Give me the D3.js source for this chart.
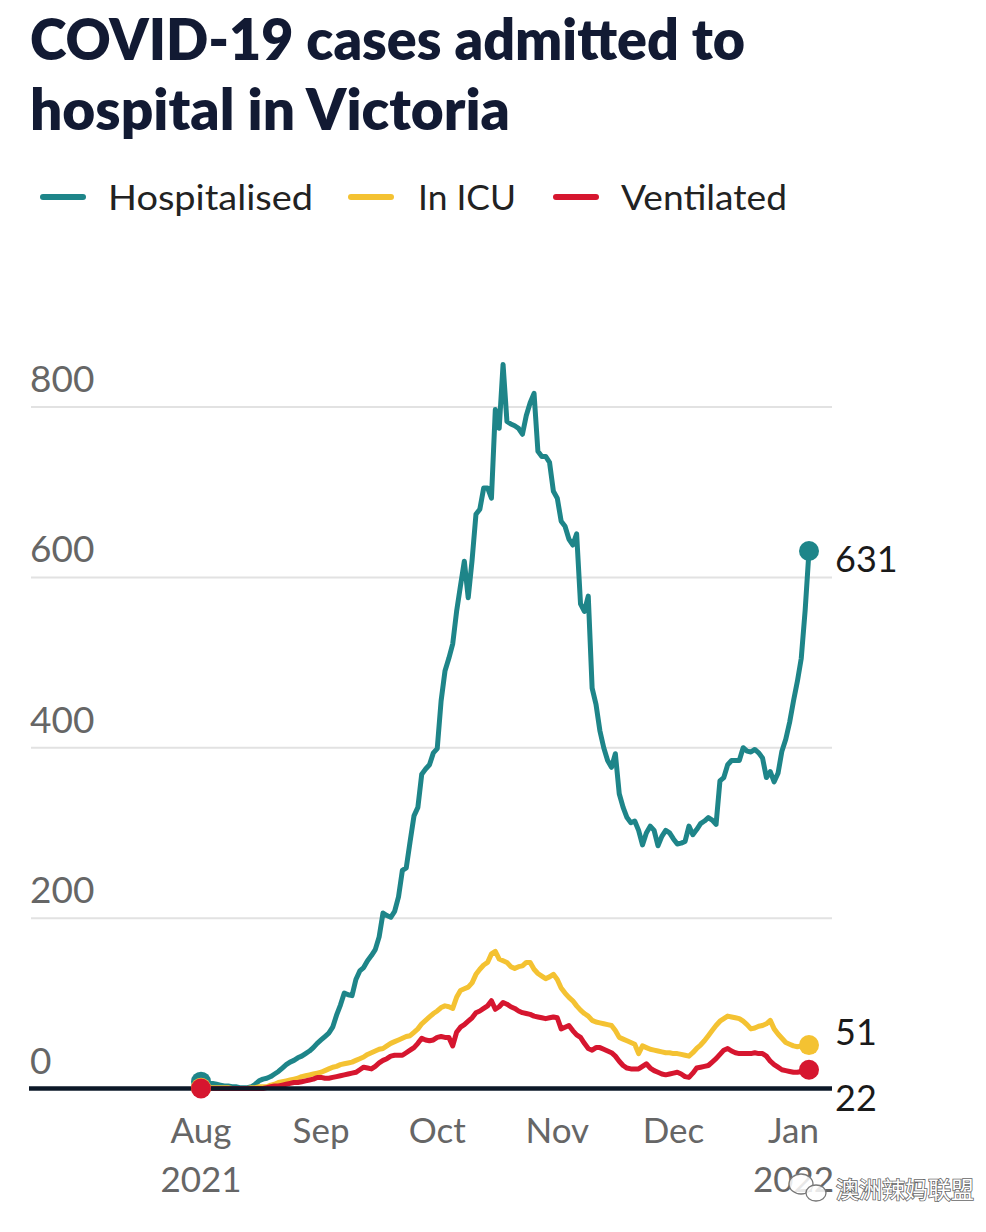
<!DOCTYPE html>
<html><head><meta charset="utf-8">
<script src="https://cdn.jsdelivr.net/npm/d3@7"></script>
<style>body{margin:0;background:#fff} svg{display:block}</style>
</head><body><svg id="c" width="986" height="1232"></svg>
<script>
// ---------- data ----------
const startDate = "2021-08-01"; // daily values from this date
const hospitalised = [
  8,7,6,6,5,4,3,3,2,2,
  1,1,1,2,5,9,11,12,14,17,
  20,24,28,31,33,36,38,41,44,48,
  53,57,61,65,72,86,98,112,110,109,
  128,138,142,150,156,163,178,206,203,201,
  208,225,256,259,290,320,330,369,375,380,
  394,399,455,490,505,522,560,590,619,576,
  620,674,680,705,705,693,797,775,850,783,
  780,778,775,768,790,805,816,748,742,742,
  735,701,693,666,660,645,638,651,569,560,
  578,470,451,420,400,385,377,393,346,330,
  318,312,314,303,286,300,308,303,285,296,
  303,300,293,287,288,290,308,298,304,311,
  314,318,315,310,361,365,380,385,385,385,
  400,396,395,398,394,388,365,372,360,370,
  396,410,430,455,478,505,561,631
];
const icu = [
  1,1,1,1,1,1,1,1,0,0,
  0,0,0,1,1,2,2,2,4,5,
  7,8,9,10,11,12,14,15,16,17,
  18,19,21,23,25,26,28,29,30,31,
  33,35,37,40,42,44,46,47,50,53,
  55,57,59,61,62,66,70,76,80,84,
  88,91,95,97,96,94,107,115,117,119,
  124,134,140,145,148,158,161,152,150,148,
  143,141,143,144,148,148,140,135,132,129,
  131,134,128,118,112,107,103,97,92,88,
  85,80,78,77,76,75,74,68,60,58,
  56,54,52,41,50,48,46,45,44,43,
  42,42,41,41,40,39,38,42,47,51,
  56,62,68,74,79,82,85,84,83,82,
  79,75,70,71,73,74,76,80,70,64,
  59,54,52,50,49,50,52,51
];
const ventilated = [
  0,0,0,0,0,0,0,0,0,0,
  0,0,0,0,0,0,0,1,2,3,
  3,4,5,6,7,7,8,9,10,11,
  13,13,12,12,13,14,15,16,17,18,
  19,22,25,24,23,26,30,33,35,38,
  39,39,39,42,45,48,53,59,57,56,
  57,60,61,60,60,50,66,72,75,79,
  83,89,91,94,97,103,93,96,101,99,
  96,94,91,89,88,87,85,84,83,82,
  83,84,83,70,72,74,68,63,60,53,
  47,45,48,48,46,44,42,38,32,27,
  24,23,23,23,26,29,24,21,19,17,
  16,17,18,19,17,14,13,18,24,25,
  26,27,31,35,40,45,47,44,42,41,
  41,41,41,42,41,41,38,32,28,25,
  22,21,20,19,19,20,21,22
];
const seriesNames = ["Hospitalised", "In ICU", "Ventilated"];
const seriesColors = ["#1e8589", "#f4c232", "#d6162f"];
const yTicks = [0, 200, 400, 600, 800];
const monthTicks = ["2021-08-01","2021-09-01","2021-10-01","2021-11-01","2021-12-01","2022-01-01"];
const monthLabels = ["Aug","Sep","Oct","Nov","Dec","Jan"];
const yearLabels = ["2021","","","","","2022"];
const titleLines = ["COVID-19 cases admitted to", "hospital in Victoria"];
const watermark = "澳洲辣妈联盟";

// ---------- chart ----------
const svg = d3.select("#c");
const parse = d3.utcParse("%Y-%m-%d");
const t0 = parse(startDate);
const series = [hospitalised, icu, ventilated];
const n = hospitalised.length;
const dates = d3.range(n).map(i => d3.utcDay.offset(t0, i));

const x = d3.scaleUtc().domain([dates[0], dates[n - 1]]).range([201, 809]);
const y = d3.scaleLinear().domain([0, 800]).range([1088.5, 407]);

const FONT = "Lato, 'Noto Sans', sans-serif";

// title
const title = svg.append("g");
titleLines.forEach((t, i) => {
  title.append("text")
    .attr("x", 30).attr("y", 60 + i * 70)
    .attr("font-family", FONT).attr("font-weight", 800).attr("font-size", 57)
    .attr("fill", "#121a33")
    .attr("textLength", i === 0 ? 715 : 480).attr("lengthAdjust", "spacingAndGlyphs")
    .text(t);
});

// legend
const legendPos = [{sx: 40, tx: 108, w: 205}, {sx: 348, tx: 418, w: 98}, {sx: 553, tx: 621, w: 166}];
const legend = svg.append("g");
seriesNames.forEach((name, i) => {
  const p = legendPos[i];
  legend.append("line")
    .attr("x1", p.sx + 3).attr("x2", p.sx + 43).attr("y1", 197).attr("y2", 197)
    .attr("stroke", seriesColors[i]).attr("stroke-width", 6).attr("stroke-linecap", "round");
  legend.append("text")
    .attr("x", p.tx).attr("y", 210)
    .attr("font-family", FONT).attr("font-size", 35).attr("fill", "#222")
    .attr("textLength", p.w).attr("lengthAdjust", "spacingAndGlyphs")
    .text(name);
});

// gridlines
const grid = svg.append("g");
grid.selectAll("line.g").data(yTicks.filter(d => d > 0)).join("line")
  .attr("x1", 31).attr("x2", 832)
  .attr("y1", d => y(d)).attr("y2", d => y(d))
  .attr("stroke", "#e2e2e2").attr("stroke-width", 2);

// y tick labels
svg.append("g").selectAll("text").data(yTicks).join("text")
  .attr("x", 30).attr("y", d => y(d) - 15)
  .attr("font-family", FONT).attr("font-size", 37).attr("fill", "#666")
  .text(d => d3.format("d")(d));

// lines
const line = d3.line()
  .x((d, i) => x(dates[i]))
  .y(d => y(d))
  .curve(d3.curveLinear);
const linesG = svg.append("g");
series.forEach((s, k) => {
  linesG.append("path")
    .attr("d", line(s))
    .attr("fill", "none")
    .attr("stroke", seriesColors[k])
    .attr("stroke-width", 5)
    .attr("stroke-linejoin", "round")
    .attr("stroke-linecap", "round");
});

// zero baseline
svg.append("line")
  .attr("x1", 29).attr("x2", 832)
  .attr("y1", y(0)).attr("y2", y(0))
  .attr("stroke", "#0c1828").attr("stroke-width", 4.5);

// start and end dots
const dotsG = svg.append("g");
series.forEach((s, k) => {
  [0, n - 1].forEach(i => {
    dotsG.append("circle")
      .attr("cx", x(dates[i])).attr("cy", y(s[i])).attr("r", 10)
      .attr("fill", seriesColors[k]);
  });
});

// end labels with simple collision avoidance
const labels = series.map((s, k) => ({v: s[n - 1], c: y(s[n - 1]) + 8.5}));
const sorted = labels.slice().sort((a, b) => a.c - b.c);
const gap = 66;
for (let it = 0; it < 50; it++) {
  for (let i = 1; i < sorted.length; i++) {
    const a = sorted[i - 1], b = sorted[i];
    const ov = gap - (b.c - a.c);
    if (ov > 0) { a.c -= ov / 2; b.c += ov / 2; }
  }
}
svg.append("g").selectAll("text").data(labels).join("text")
  .attr("x", 835).attr("y", d => d.c + 12.5)
  .attr("font-family", FONT).attr("font-size", 36).attr("fill", "#1a1a1a")
  .text(d => d.v);

// x axis labels
const xl = svg.append("g");
monthTicks.forEach((m, i) => {
  const xx = x(parse(m));
  xl.append("text").attr("x", xx).attr("y", 1143).attr("text-anchor", "middle")
    .attr("font-family", FONT).attr("font-size", 35).attr("fill", "#666").text(monthLabels[i]);
  if (yearLabels[i]) {
    xl.append("text").attr("x", xx).attr("y", 1192).attr("text-anchor", "middle")
      .attr("font-family", FONT).attr("font-size", 35).attr("fill", "#666").text(yearLabels[i]);
  }
});

// watermark
const wm = svg.append("g");
wm.append("ellipse").attr("cx", 801).attr("cy", 1184).attr("rx", 12).attr("ry", 10)
  .attr("fill", "rgba(255,255,255,0.85)").attr("stroke", "#777").attr("stroke-width", 1.3);
wm.append("ellipse").attr("cx", 816).attr("cy", 1193).attr("rx", 10).attr("ry", 8)
  .attr("fill", "rgba(255,255,255,0.85)").attr("stroke", "#777").attr("stroke-width", 1.3);
wm.append("text").attr("x", 836).attr("y", 1198)
  .attr("font-family", "'Noto Sans CJK SC', sans-serif").attr("font-size", 23)
  .attr("fill", "#fff").attr("stroke", "#666").attr("stroke-width", 1.6)
  .attr("paint-order", "stroke")
  .text(watermark);
</script></body></html>
